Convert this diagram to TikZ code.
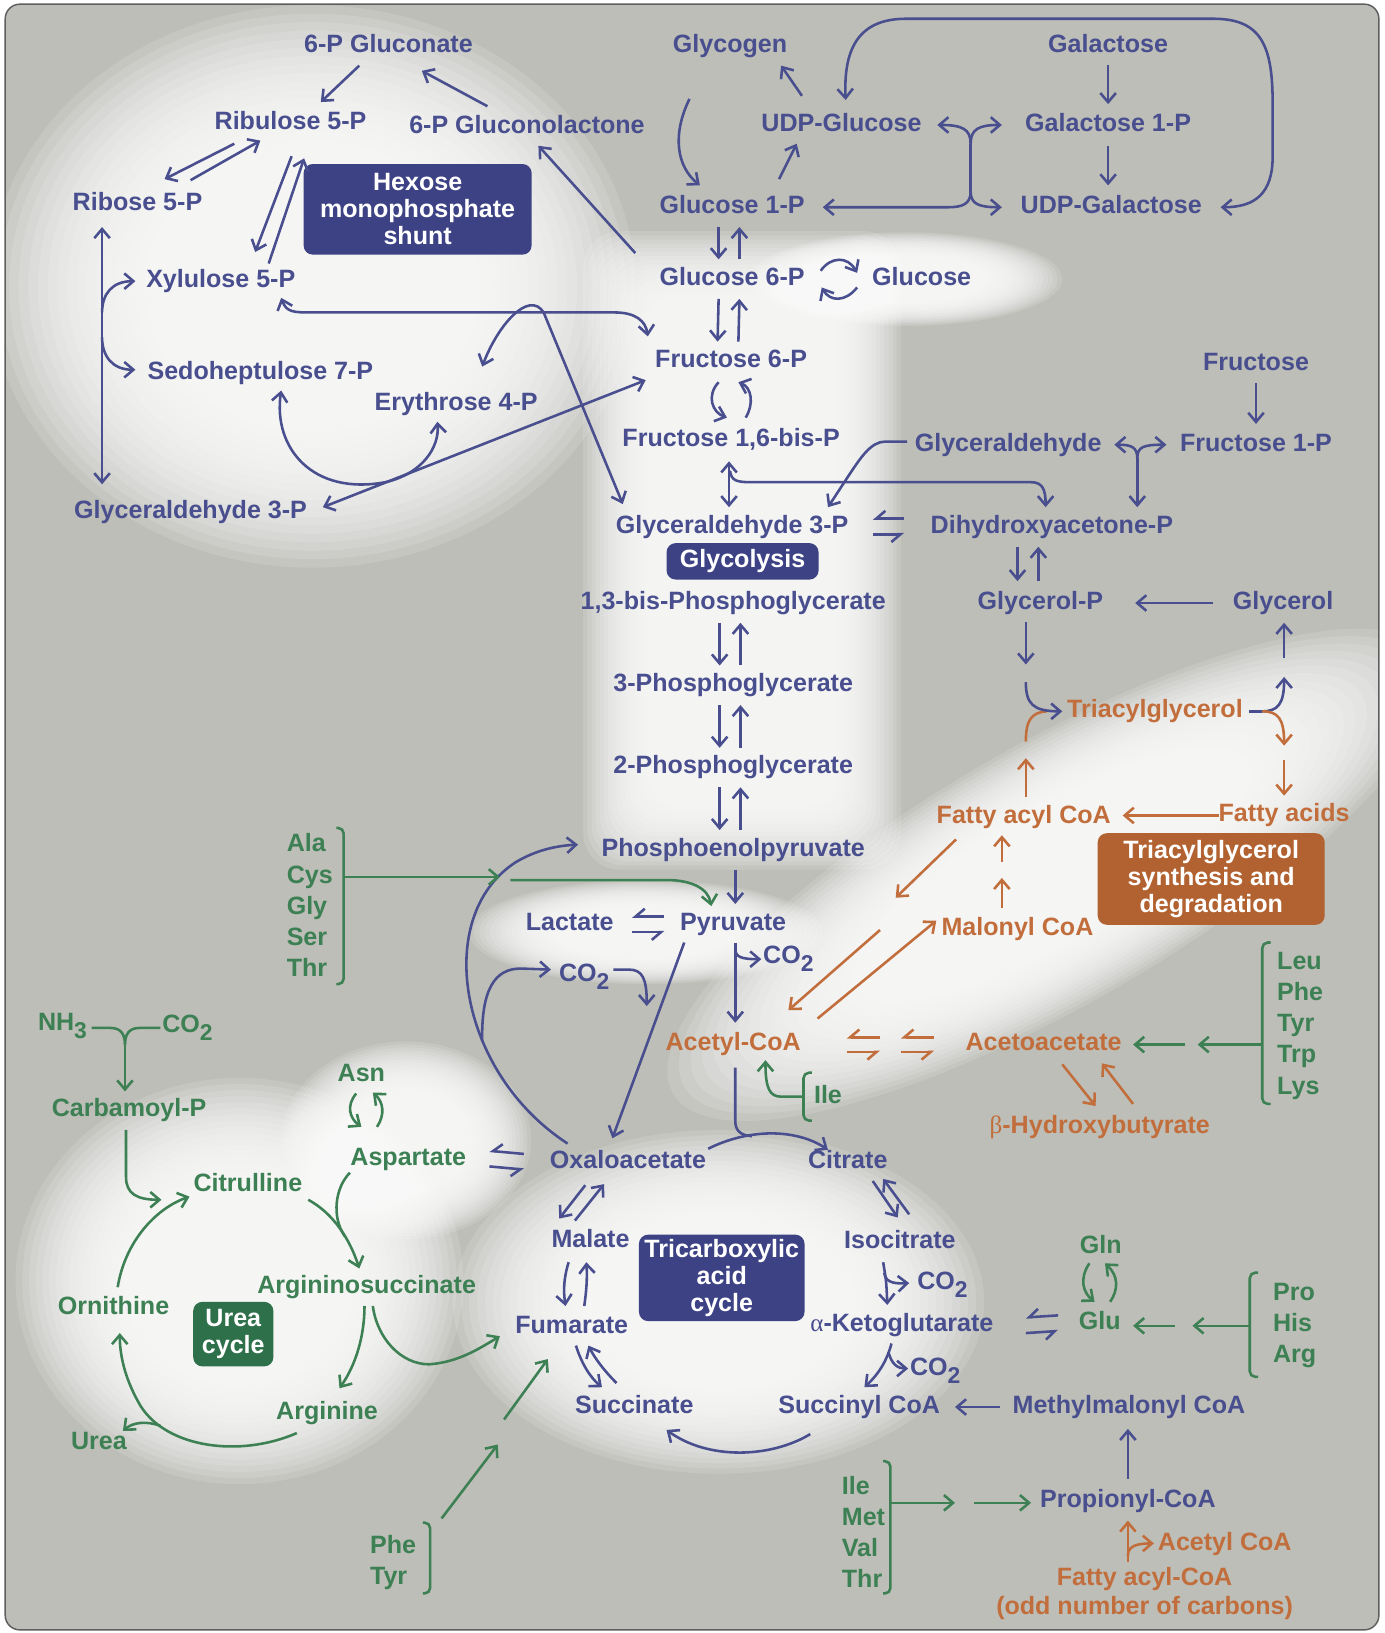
\documentclass[tikz,border=0pt]{standalone}
\usepackage{fontspec}
\setmainfont{Liberation Sans}
\newfontfamily\gkfont{Liberation Serif}
\usetikzlibrary{arrows.meta,calc}

\definecolor{bggray}{RGB}{189,190,183}
\definecolor{edgegray}{RGB}{95,95,95}
\definecolor{blu}{RGB}{72,78,142}
\definecolor{bluebox}{RGB}{60,66,132}
\definecolor{grn}{RGB}{60,128,84}
\definecolor{greenbox}{RGB}{46,112,74}
\definecolor{org}{RGB}{194,110,60}
\definecolor{orangebox}{RGB}{178,98,48}

\newcommand{\mapfont}{\fontsize{13.7}{16}\selectfont\bfseries}
\newcommand{\lowsub}[1]{\raisebox{-0.6ex}{\fontsize{12.5}{12}\selectfont #1}}

% soft light patches
\newcommand{\glowellipse}[4]{%
  \foreach \s in {1.00,0.97,...,0.50}{%
    \fill[white,opacity=0.13] (#1,#2) circle[x radius={#3*\s}, y radius={#4*\s}];}}
\newcommand{\glowbox}[4]{%
  \foreach \d in {0,4,...,60}{%
    \fill[white,opacity=0.13,rounded corners=20pt] ({#1+\d},{#2+\d}) rectangle ({#3-\d},{#4-\d});}}

\tikzset{
  lbl/.style={font=\mapfont, inner sep=1pt, text height=10pt, text depth=3pt},
  bl/.style={lbl, text=blu},
  gr/.style={lbl, text=grn},
  og/.style={lbl, text=org},
  lst/.style={font=\fontsize{13.7}{17}\selectfont\bfseries, text=grn, align=left, anchor=west, inner sep=0pt},
  pathbox/.style={rounded corners=5pt, text=white, align=center, inner sep=0pt,
    font=\fontsize{13.7}{14.7}\selectfont\bfseries},
  bline/.style={blu, line width=1.4pt},
  barrow/.style={bline, ->},
  bboth/.style={bline, <->},
  gline/.style={grn, line width=1.4pt},
  garrow/.style={gline, ->},
  oline/.style={org, line width=1.4pt},
  oarrow/.style={oline, ->},
  bharp/.style={bline, -{Straight Barb[harpoon,swap,length=5pt,width=8.5pt]}},
  oharp/.style={oline, -{Straight Barb[harpoon,swap,length=5pt,width=8.5pt]}},
}

\begin{document}
\begin{tikzpicture}[x=0.02cm, y=-0.02cm, >={Straight Barb[length=5pt,width=8.5pt]}]
\useasboundingbox (0,0) rectangle (1329,1568);

% page
\fill[white] (0,0) rectangle (1329,1568);
\fill[bggray, rounded corners=8pt] (5,4) rectangle (1324,1565);
\begin{scope}
  \clip[rounded corners=8pt] (5,4) rectangle (1324,1565);
  \glowellipse{300}{275}{310}{270}
  \glowbox{560}{222}{865}{835}
  \glowellipse{870}{268}{150}{45}
  \begin{scope}[rotate around={30:(1010,840)}]
    \glowellipse{1010}{840}{420}{125}
  \end{scope}
  \glowellipse{690}{1250}{255}{165}
  \glowellipse{230}{1230}{215}{195}
  \glowellipse{390}{1095}{120}{95}
  \glowellipse{620}{895}{170}{50}
\end{scope}
\draw[edgegray, line width=0.8pt, rounded corners=8pt] (5,4) rectangle (1324,1565);

% hexose monophosphate shunt
\node[bl] (gluconate) at (373,44) {6-P Gluconate};
\node[bl] (ribulose) at (279,118) {Ribulose 5-P};
\node[bl] (lactone) at (506,122) {6-P Gluconolactone};
\node[bl] (ribose) at (132,196) {Ribose 5-P};
\node[bl] (xylulose) at (212,270) {Xylulose 5-P};
\node[bl] (sedo) at (250,358) {Sedoheptulose 7-P};
\node[bl] (erythrose) at (438,388) {Erythrose 4-P};
\node[bl] (gapleft) at (183,492) {Glyceraldehyde 3-P};
\node[pathbox, fill=bluebox, minimum width=4.38cm, minimum height=1.74cm] (hmp) at (401,201) {Hexose\\monophosphate\\shunt};

% glycogen and glycolysis
\node[bl] (glycogen) at (701,44) {Glycogen};
\node[bl] (udpglc) at (808,120) {UDP-Glucose};
\node[bl] (g1p) at (703,199) {Glucose 1-P};
\node[bl] (g6p) at (703,268) {Glucose 6-P};
\node[bl] (glucose) at (885,268) {Glucose};
\node[bl] (f6p) at (702,347) {Fructose 6-P};
\node[bl] (fbp) at (702,423) {Fructose 1,6-bis-P};
\node[bl] (gap) at (703,506) {Glyceraldehyde 3-P};
\node[pathbox, fill=bluebox, minimum width=2.92cm, minimum height=0.7cm] (glycolysis) at (713,539) {Glycolysis};
\node[bl] (bpg) at (704,579) {1,3-bis-Phosphoglycerate};
\node[bl] (pg3) at (704,658) {3-Phosphoglycerate};
\node[bl] (pg2) at (704,737) {2-Phosphoglycerate};
\node[bl] (pep) at (704,816) {Phosphoenolpyruvate};
\node[bl] (lactate) at (547,887) {Lactate};
\node[bl] (pyruvate) at (704,887) {Pyruvate};
\node[bl] (co2pdh) at (757,919) {CO\lowsub{2}};
\node[bl] (co2pc) at (561,936) {CO\lowsub{2}};

% galactose, fructose, glycerol
\node[bl] (galactose) at (1064,44) {Galactose};
\node[bl] (gal1p) at (1064,120) {Galactose 1-P};
\node[bl] (udpgal) at (1067,199) {UDP-Galactose};
\node[bl] (fructose) at (1206,350) {Fructose};
\node[bl] (fru1p) at (1206,427) {Fructose 1-P};
\node[bl] (glyald) at (968,427) {Glyceraldehyde};
\node[bl] (dhap) at (1010,506) {Dihydroxyacetone-P};
\node[bl] (glycp) at (999,579) {Glycerol-P};
\node[bl] (glycerol) at (1232,579) {Glycerol};

% lipids
\node[og] (tag) at (1109,683) {Triacylglycerol};
\node[og] (facoa) at (983,785) {Fatty acyl CoA};
\node[og] (fattyacids) at (1233,783) {Fatty acids};
\node[pathbox, fill=orangebox, minimum width=4.36cm, minimum height=1.76cm] (tagbox) at (1163,844) {Triacylglycerol\\synthesis and\\degradation};
\node[og] (malonyl) at (977,892) {Malonyl CoA};
\node[og] (acetylcoa) at (704,1003) {Acetyl-CoA};
\node[og] (acetoacetate) at (1002,1003) {Acetoacetate};
\node[og] (hydroxybut) at (1056,1082) {{\gkfont\mdseries β}-Hydroxybutyrate};

% tricarboxylic acid cycle
\node[bl] (oaa) at (603,1116) {Oxaloacetate};
\node[bl] (citrate) at (814,1116) {Citrate};
\node[bl] (malate) at (567,1192) {Malate};
\node[bl] (isocitrate) at (864,1193) {Isocitrate};
\node[bl] (fumarate) at (549,1274) {Fumarate};
\node[bl] (akg) at (866,1272) {{\gkfont\mdseries α}-Ketoglutarate};
\node[bl] (succinate) at (609,1351) {Succinate};
\node[bl] (succoa) at (825,1351) {Succinyl CoA};
\node[bl] (co2idh) at (905,1232) {CO\lowsub{2}};
\node[bl] (co2kdh) at (898,1315) {CO\lowsub{2}};
\node[pathbox, fill=bluebox, minimum width=3.18cm, minimum height=1.66cm] (tcabox) at (693,1227) {Tricarboxylic\\acid\\cycle};
\node[bl] (mmcoa) at (1084,1351) {Methylmalonyl CoA};
\node[bl] (propcoa) at (1083,1441) {Propionyl-CoA};
\node[og] (acetylcoab) at (1176,1483) {Acetyl CoA};
\node[font=\fontsize{13.7}{15.9}\selectfont\bfseries, text=org, align=center, inner sep=1pt] (oddfa) at (1099,1530) {Fatty acyl-CoA\\(odd number of carbons)};

% amino acids
\node[gr] (gln) at (1057,1197) {Gln};
\node[gr] (glu) at (1056,1270) {Glu};
\node[gr] (ile) at (795,1053) {Ile};
\node[lst] (aapyr) at (275,869) {Ala\\Cys\\Gly\\Ser\\Thr};
\node[lst] (aaketo) at (1226,985) {Leu\\Phe\\Tyr\\Trp\\Lys};
\node[lst] (aaglu) at (1222,1273) {Pro\\His\\Arg};
\node[lst] (aaprop) at (808,1471) {Ile\\Met\\Val\\Thr};
\node[lst] (aafum) at (355,1500) {Phe\\Tyr};

% urea cycle
\node[gr] (nh3) at (60,983) {NH\lowsub{3}};
\node[gr] (co2urea) at (180,985) {CO\lowsub{2}};
\node[gr] (carbp) at (124,1066) {Carbamoyl-P};
\node[gr] (asn) at (347,1032) {Asn};
\node[gr] (asp) at (392,1113) {Aspartate};
\node[gr] (citrulline) at (238,1138) {Citrulline};
\node[gr] (argsucc) at (352,1236) {Argininosuccinate};
\node[gr] (ornithine) at (109,1256) {Ornithine};
\node[pathbox, fill=greenbox, minimum width=1.54cm, minimum height=1.24cm] (ureabox) at (224,1281) {Urea\\cycle};
\node[gr] (arginine) at (314,1357) {Arginine};
\node[gr] (urea) at (95,1386) {Urea};

% junction points
\coordinate (rx) at (98,300);
\coordinate (rs) at (98,324);
\coordinate (tald) at (370,463);
\coordinate (epit) at (932,138);
\coordinate (epib) at (932,184);
\coordinate (ald) at (701,452);
\coordinate (fald) at (1092,440);
\coordinate (gpdown) at (985,638);
\coordinate (gpin) at (985,655);
\coordinate (faup) at (985,712);
\coordinate (faupend) at (985,728);
\coordinate (tagout) at (1212,683);
\coordinate (glyup) at (1233,632);
\coordinate (fadown) at (1233,730);
\coordinate (malmid) at (962,843);
\coordinate (malmidb) at (962,828);
\coordinate (betamid) at (860,862);
\coordinate (betamidb) at (845,893);
\coordinate (pdh) at (706,911);
\coordinate (pcbranch) at (463,1000);
\coordinate (pcdown) at (621,966);
\coordinate (alamid) at (480,842);
\coordinate (alamidb) at (490,845);
\coordinate (cs) at (722,1091);
\coordinate (idh) at (849,1222);
\coordinate (kdh) at (853,1298);
\coordinate (oddsplit) at (1083,1494);
\coordinate (glumid) at (1145,1273);
\coordinate (glumidb) at (1128,1273);
\coordinate (ketomid) at (1150,1003);
\coordinate (ketomidb) at (1138,1003);
\coordinate (propmid) at (917,1443);
\coordinate (propmidb) at (935,1443);
\coordinate (phemid) at (478,1387);
\coordinate (phemidb) at (484,1363);
\coordinate (ny) at (120,1003);
\coordinate (aspjoin) at (331,1187);
\coordinate (ureaout) at (154,1369);

% shunt arrows
\draw[barrow] ($(gluconate)+(-28,19)$) -- ($(ribulose)+(29,-20)$);
\draw[barrow] ($(lactone)+(-38,-20)$) -- ($(gluconate)+(32,24)$);
\draw[barrow] ($(g6p)+(-93,-25)$) -- ($(lactone)+(11,18)$);
\draw[barrow] ($(ribulose)+(-54,20)$) -- ($(ribose)+(26,-24)$);
\draw[barrow] ($(ribose)+(51,-23)$) -- ($(ribulose)+(-29,17)$);
\draw[barrow] ($(ribulose)+(1,32)$) -- ($(xylulose)+(33,-28)$);
\draw[barrow] ($(xylulose)+(46,-17)$) -- ($(ribulose)+(13,34)$);
\draw[bboth] ($(ribose)+(-34,22)$) -- ($(gapleft)+(-85,-27)$);
\draw[barrow] (rx) .. controls (98,282) and (108,270) .. ($(xylulose)+(-82,0)$);
\draw[barrow] (rs) .. controls (98,342) and (108,355) .. ($(sedo)+(-120,-3)$);

% transketolase, transaldolase
\draw[bboth] ($(xylulose)+(58,16)$) .. controls (275,300) and (282,300) .. (300,300) -- (590,300) .. controls (610,300) and (620,308) .. ($(f6p)+(-80,-24)$);
\draw[bboth] ($(erythrose)+(25,-36)$) .. controls (478,312) and (508,278) .. (522,300) -- ($(gap)+(-105,-22)$);
\draw[bboth] ($(f6p)+(-82,18)$) -- ($(gapleft)+(127,-5)$);
\draw[barrow] (tald) .. controls (300,476) and (262,430) .. ($(sedo)+(20,17)$);
\draw[barrow] (tald) .. controls (405,455) and (422,430) .. ($(erythrose)+(-18,17)$);

% glycogen and galactose
\draw[barrow] ($(glycogen)+(-39,51)$) .. controls (645,130) and (650,160) .. ($(g1p)+(-31,-21)$);
\draw[barrow] ($(g1p)+(45,-27)$) -- ($(udpglc)+(-43,18)$);
\draw[barrow] ($(udpglc)+(-38,-28)$) -- ($(glycogen)+(49,19)$);
\draw[bboth] ($(udpglc)+(4,-24)$) .. controls (810,50) and (822,18) .. (870,18) -- (1165,18) .. controls (1212,18) and (1222,45) .. (1222,100) -- (1222,150) .. controls (1222,186) and (1205,199) .. ($(udpgal)+(105,0)$);
\draw[bline] (epit) -- (epib);
\draw[barrow] (epit) .. controls (932,124) and (924,120) .. ($(udpglc)+(92,0)$);
\draw[barrow] (epit) .. controls (932,124) and (940,120) .. ($(gal1p)+(-102,0)$);
\draw[barrow] (epib) .. controls (932,196) and (924,199) .. (910,199) -- ($(g1p)+(87,0)$);
\draw[barrow] (epib) .. controls (932,196) and (940,199) .. ($(udpgal)+(-105,0)$);
\draw[barrow] ($(galactose)+(0,18)$) -- ($(gal1p)+(0,-20)$);
\draw[barrow] ($(gal1p)+(0,20)$) -- ($(udpgal)+(-3,-21)$);

% reversible glycolytic steps
\foreach \a/\b in {g1p/g6p, g6p/f6p, bpg/pg3, pg3/pg2, pg2/pep} {
  \draw[barrow] ($(\a)+(-13,19)$) -- ($(\b)+(-13,-19)$);
  \draw[barrow] ($(\b)+(7,-19)$) -- ($(\a)+(7,19)$);
}
\draw[barrow] ($(g6p)+(85,-8)$) .. controls (798,246) and (814,246) .. ($(glucose)+(-62,-6)$);
\draw[barrow] ($(glucose)+(-62,8)$) .. controls (812,290) and (797,290) .. ($(g6p)+(86,8)$);
\draw[barrow] ($(f6p)+(-12,20)$) .. controls (678,380) and (684,396) .. ($(fbp)+(-4,-22)$);
\draw[barrow] ($(fbp)+(14,-22)$) .. controls (724,388) and (722,372) .. ($(f6p)+(7,20)$);
\draw[bboth] ($(fbp)+(-2,20)$) -- ($(gap)+(-3,-19)$);
\draw[barrow] (ald) .. controls (702,462) and (708,463) .. (722,463) -- (990,463) .. controls (1001,463) and (1004,470) .. ($(dhap)+(-6,-19)$);
\draw[barrow] ($(glyald)+(-97,-3)$) -- (850,424) .. controls (836,424) and (826,440) .. (814,458) -- ($(gap)+(92,-19)$);
\draw[barrow] (fald) -- ($(dhap)+(82,-19)$);
\draw[barrow] (fald) .. controls (1092,429) and (1086,427) .. ($(glyald)+(102,0)$);
\draw[barrow] (fald) .. controls (1092,429) and (1098,427) .. ($(fru1p)+(-86,0)$);
\draw[barrow] ($(fructose)+(0,18)$) -- ($(fru1p)+(0,-20)$);
\draw[bharp] ($(dhap)+(-142,-8)$) -- ($(gap)+(135,-8)$);
\draw[bharp] ($(gap)+(135,7)$) -- ($(dhap)+(-142,7)$);

% glycerol and triacylglycerol
\draw[barrow] ($(dhap)+(-33,19)$) -- ($(glycp)+(-22,-21)$);
\draw[barrow] ($(glycp)+(-2,-21)$) -- ($(dhap)+(-13,19)$);
\draw[barrow] ($(glycerol)+(-67,0)$) -- ($(glycp)+(91,0)$);
\draw[barrow] ($(glycp)+(-14,18)$) -- (gpdown);
\draw[oline] (faup) .. controls (985,692) and (990,684) .. (1005,683);
\draw[barrow] (gpin) .. controls (985,676) and (992,683) .. ($(tag)+(-89,0)$);
\draw[oarrow] ($(facoa)+(2,-20)$) -- (faupend);
\draw[bline] ($(tag)+(90,0)$) -- (tagout);
\draw[barrow] (tagout) .. controls (1227,683) and (1233,676) .. (1233,650);
\draw[oarrow] (tagout) .. controls (1227,683) and (1233,690) .. (1233,716);
\draw[barrow] (glyup) -- ($(glycerol)+(1,19)$);
\draw[oarrow] (fadown) -- ($(fattyacids)+(0,-19)$);
\draw[oarrow] ($(fattyacids)+(-63,0)$) -- ($(facoa)+(95,-2)$);
\draw[oarrow] ($(malonyl)+(-15,-20)$) -- (malmid);
\draw[oarrow] (malmidb) -- ($(facoa)+(-21,17)$);
\draw[oarrow] ($(facoa)+(-65,21)$) -- (betamid);
\draw[oarrow] (betamidb) -- ($(acetylcoa)+(53,-33)$);
\draw[oarrow] ($(acetylcoa)+(81,-25)$) -- ($(malonyl)+(-78,-8)$);

% ketone bodies
\draw[oharp] ($(acetylcoa)+(141,-7)$) -- ($(acetylcoa)+(109,-7)$);
\draw[oharp] ($(acetylcoa)+(109,7)$) -- ($(acetylcoa)+(141,7)$);
\draw[oharp] ($(acetoacetate)+(-105,-7)$) -- ($(acetoacetate)+(-137,-7)$);
\draw[oharp] ($(acetoacetate)+(-137,7)$) -- ($(acetoacetate)+(-105,7)$);
\draw[oarrow] ($(acetoacetate)+(18,19)$) -- ($(hydroxybut)+(-4,-20)$);
\draw[oarrow] ($(hydroxybut)+(32,-22)$) -- ($(acetoacetate)+(56,18)$);

% pyruvate
\draw[barrow] ($(pep)+(2,19)$) -- ($(pyruvate)+(2,-19)$);
\draw[bharp] ($(pyruvate)+(-66,-7)$) -- ($(lactate)+(60,-7)$);
\draw[bharp] ($(lactate)+(60,8)$) -- ($(pyruvate)+(-66,8)$);
\draw[barrow] ($(pyruvate)+(2,18)$) -- ($(acetylcoa)+(2,-21)$);
\draw[barrow] (pdh) .. controls (706,919) and (712,921) .. ($(co2pdh)+(-26,2)$);
\draw[barrow] ($(pyruvate)+(-47,18)$) -- ($(oaa)+(-15,-23)$);
\draw[barrow] ($(oaa)+(-58,-18)$) .. controls (440,1030) and (415,880) .. (495,828) .. controls (515,816) and (535,812) .. ($(pep)+(-149,-5)$);
\draw[barrow] (pcbranch) .. controls (462,950) and (475,930) .. (500,930) -- ($(co2pc)+(-32,-5)$);
\draw[barrow] ($(co2pc)+(28,-5)$) -- (604,931) .. controls (617,931) and (621,940) .. (pcdown);

% amino acids into pyruvate
\draw[gline, rounded corners=3pt] ($(aapyr.west)+(48,-74)$) -| ($(aapyr.west)+(55,0)$) |- ($(aapyr.west)+(48,76)$);
\draw[garrow] ($(aapyr.west)+(55,-27)$) -- (alamid);
\draw[garrow] (alamidb) -- (640,845) .. controls (664,845) and (680,853) .. ($(pyruvate)+(-21,-17)$);

% citrate synthase and the cycle
\draw[bline] ($(acetylcoa)+(2,22)$) -- (706,1076) .. controls (706,1086) and (711,1090) .. (cs);
\draw[barrow] ($(oaa)+(77,-13)$) .. controls (720,1083) and (765,1084) .. ($(citrate)+(-19,-12)$);
\draw[gline, rounded corners=3pt] ($(ile.west)+(0,-23)$) -| ($(ile.west)+(-8,0)$) |- ($(ile.west)+(0,23)$);
\draw[garrow] ($(ile.west)+(-8,0)$) -- (750,1053) .. controls (739,1053) and (735,1045) .. ($(acetylcoa)+(31,15)$);
\draw[bharp] ($(oaa)+(-100,-8)$) -- ($(asp)+(78,-8)$);
\draw[bharp] ($(asp)+(78,7)$) -- ($(oaa)+(-100,7)$);
\draw[barrow] ($(oaa)+(-41,22)$) -- ($(malate)+(-30,-22)$);
\draw[barrow] ($(malate)+(-15,-20)$) -- ($(oaa)+(-23,21)$);
\draw[barrow] ($(malate)+(-21,20)$) .. controls (541,1228) and (541,1240) .. ($(fumarate)+(-6,-20)$);
\draw[barrow] ($(fumarate)+(12,-20)$) .. controls (563,1240) and (564,1228) .. ($(malate)+(-4,20)$);
\draw[barrow] ($(fumarate)+(4,18)$) .. controls (558,1308) and (566,1322) .. ($(succinate)+(-31,-19)$);
\draw[barrow] ($(succinate)+(-17,-23)$) .. controls (580,1316) and (571,1304) .. ($(fumarate)+(16,18)$);
\draw[barrow] ($(succoa)+(-47,26)$) .. controls (740,1400) and (680,1402) .. ($(succinate)+(31,22)$);
\draw[barrow] ($(citrate)+(24,18)$) -- ($(isocitrate)+(-2,-24)$);
\draw[barrow] ($(isocitrate)+(9,-27)$) -- ($(citrate)+(34,16)$);
\draw[barrow] ($(isocitrate)+(-16,19)$) .. controls (851,1230) .. ($(akg)+(-14,-19)$);
\draw[barrow] (idh) .. controls (850,1230) and (856,1233) .. ($(co2idh)+(-32,0)$);
\draw[barrow] ($(akg)+(-10,18)$) .. controls (852,1305) and (845,1318) .. ($(succoa)+(5,-19)$);
\draw[barrow] (kdh) .. controls (856,1310) and (862,1314) .. ($(co2kdh)+(-26,-1)$);

% propionyl-CoA route
\draw[barrow] ($(mmcoa)+(-124,0)$) -- ($(succoa)+(92,0)$);
\draw[barrow] ($(propcoa)+(0,-21)$) -- ($(mmcoa)+(-1,21)$);
\draw[oarrow] ($(oddfa)+(-16,-30)$) -- ($(propcoa)+(0,19)$);
\draw[oarrow] (oddsplit) .. controls (1083,1485) and (1090,1482) .. ($(acetylcoab)+(-68,-1)$);
\draw[gline, rounded corners=3pt] ($(aaprop.west)+(40,-68)$) -| ($(aaprop.west)+(47,-28)$) |- ($(aaprop.west)+(40,59)$);
\draw[garrow] ($(aaprop.west)+(47,-28)$) -- (propmid);
\draw[garrow] (propmidb) -- ($(propcoa)+(-93,2)$);

% glutamate
\draw[bharp] ($(glu)+(-40,-7)$) -- ($(akg)+(119,-7)$);
\draw[bharp] ($(akg)+(119,8)$) -- ($(glu)+(-40,8)$);
\draw[garrow] ($(gln)+(-11,16)$) .. controls (1036,1228) and (1040,1241) .. ($(glu)+(-5,-20)$);
\draw[garrow] ($(glu)+(10,-20)$) .. controls (1074,1238) and (1074,1225) .. ($(gln)+(4,16)$);
\draw[gline, rounded corners=3pt] ($(aaglu.west)+(-14,-51)$) -| ($(aaglu.west)+(-22,0)$) |- ($(aaglu.west)+(-14,49)$);
\draw[garrow] ($(aaglu.west)+(-22,0)$) -- (glumid);
\draw[garrow] (glumidb) -- ($(glu)+(32,3)$);

% ketogenic amino acids
\draw[gline, rounded corners=3pt] ($(aaketo.west)+(-6,-80)$) -| ($(aaketo.west)+(-14,18)$) |- ($(aaketo.west)+(-6,75)$);
\draw[garrow] ($(aaketo.west)+(-14,18)$) -- (ketomid);
\draw[garrow] (ketomidb) -- ($(acetoacetate)+(86,0)$);

% phe, tyr to fumarate
\draw[gline, rounded corners=3pt] ($(aafum.west)+(51,-38)$) -| ($(aafum.west)+(58,0)$) |- ($(aafum.west)+(51,30)$);
\draw[garrow] ($(aafum.west)+(69,-42)$) -- (phemid);
\draw[garrow] (phemidb) -- ($(fumarate)+(-23,31)$);

% urea cycle
\draw[gline] ($(nh3)+(28,4)$) -- (106,987) .. controls (116,987) and (120,993) .. (ny);
\draw[gline] ($(co2urea)+(-26,2)$) -- (134,987) .. controls (124,987) and (120,993) .. (ny);
\draw[garrow] (ny) -- ($(carbp)+(-4,-18)$);
\draw[garrow] ($(carbp)+(-3,19)$) -- (121,1130) .. controls (121,1146) and (131,1152) .. ($(citrulline)+(-83,14)$);
\draw[garrow] ($(ornithine)+(4,-20)$) .. controls (120,1192) and (150,1160) .. ($(citrulline)+(-56,11)$);
\draw[garrow] ($(citrulline)+(58,14)$) .. controls (320,1165) and (336,1190) .. ($(argsucc)+(-7,-18)$);
\draw[gline] ($(asp)+(-56,13)$) .. controls (322,1140) and (318,1168) .. (aspjoin);
\draw[garrow] ($(argsucc)+(-2,18)$) .. controls (350,1282) and (342,1310) .. ($(arginine)+(12,-24)$);
\draw[garrow] ($(argsucc)+(6,18)$) .. controls (362,1285) and (385,1310) .. (412,1310) .. controls (440,1308) and (460,1295) .. ($(fumarate)+(-69,9)$);
\draw[garrow] ($(arginine)+(-29,19)$) .. controls (230,1400) and (160,1390) .. (135,1350) .. controls (122,1328) and (115,1305) .. ($(ornithine)+(6,24)$);
\draw[garrow] (ureaout) .. controls (140,1364) and (127,1366) .. ($(urea)+(23,-12)$);
\draw[garrow] ($(asn)+(-5,18)$) .. controls (332,1062) and (336,1074) .. ($(asp)+(-45,-31)$);
\draw[garrow] ($(asp)+(-30,-31)$) .. controls (370,1070) and (368,1058) .. ($(asn)+(11,17)$);

\end{tikzpicture}
\end{document}
